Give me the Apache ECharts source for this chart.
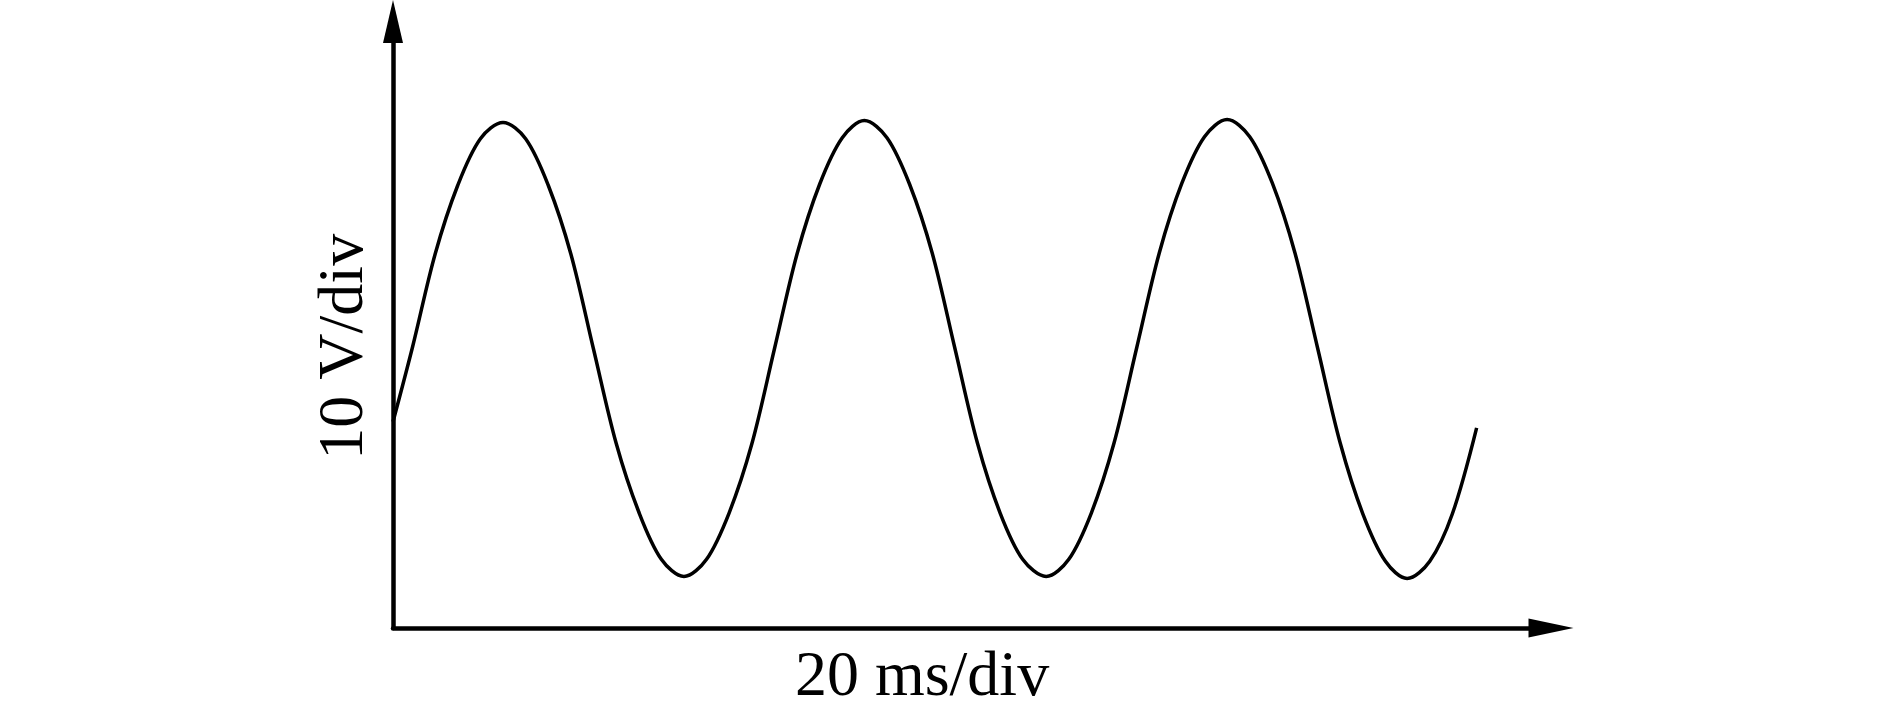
<!DOCTYPE html>
<html>
<head>
<meta charset="utf-8">
<title>10 V/div - 20 ms/div</title>
<script src="https://cdn.jsdelivr.net/npm/echarts@6/dist/echarts.min.js"></script>
<style>
  html, body { margin: 0; padding: 0; background: #fff; }
  #wave { width: 1889px; height: 703px; }
</style>
</head>
<body>
<div id="wave"></div>
<script>
// 读图得到的波形点 (时间 ms, 电压 V)，约每 1.25 ms 一个点
const timeMs = [0, 1.08, 2.33, 3.58, 4.83, 6.08, 7.33, 8.58, 9.83,
  11.08, 12.33, 13.58, 14.83, 16.08, 17.33, 18.58, 19.83,
  21.08, 22.33, 23.58, 24.83, 26.05, 27.30, 28.55, 29.80,
  31.05, 32.30, 33.55, 34.80, 36.10, 37.35, 38.60, 39.85,
  41.10, 42.35, 43.60, 44.85, 46.10, 47.35, 48.60, 49.85,
  51.10, 52.35, 53.60, 54.85, 56.05, 57.30, 58.55, 59.89]
const voltage = [20.4, 27.8, 37.0, 43.8, 48.4, 50.0, 48.4, 43.8, 37.0,
  27.6, 18.3, 11.5, 6.8, 5.1, 6.8, 11.4, 18.2,
  27.6, 37.0, 43.9, 48.5, 50.2, 48.5, 43.9, 37.1,
  27.7, 18.3, 11.4, 6.8, 5.1, 6.8, 11.4, 18.3,
  27.7, 37.1, 44.0, 48.6, 50.3, 48.6, 44.0, 37.1,
  27.7, 18.3, 11.3, 6.6, 4.9, 6.6, 11.3, 19.8]

// 坐标轴范围 / 名称
const xRange = [0, 64]
const yRange = [0, 60]
const xName = '20 ms/div'
const yName = '10 V/div'

const points = timeMs.map((t, i) => [t, voltage[i]])

const chart = echarts.init(document.getElementById('wave'))

const axisFont = {
  fontFamily: 'Liberation Serif',
  fontSize: 64,
  color: '#000'
}

const option = {
  animation: false,
  backgroundColor: '#fff',
  grid: {
    left: 393,
    right: 338,
    top: 21.5,
    bottom: 75,
    // 名称超出画布也不要压缩 grid
    outerBoundsMode: 'none'
  },
  xAxis: {
    type: 'value',
    min: xRange[0],
    max: xRange[1],
    name: xName,
    nameLocation: 'middle',
    nameGap: 18,
    nameTextStyle: Object.assign({ padding: [0, 100, 0, 0] }, axisFont),
    axisLine: {
      lineStyle: { color: '#000', width: 4.5 },
      symbol: ['none', 'triangle'],
      symbolSize: [19, 45]
    },
    axisTick: { show: false },
    axisLabel: { show: false },
    splitLine: { show: false }
  },
  yAxis: {
    type: 'value',
    min: yRange[0],
    max: yRange[1],
    name: yName,
    nameLocation: 'middle',
    nameGap: 16,
    nameTextStyle: Object.assign({ padding: [0, 44, 0, 0] }, axisFont),
    axisLine: {
      lineStyle: { color: '#000', width: 4.5 },
      symbol: ['none', 'triangle'],
      symbolSize: [20, 43]
    },
    axisTick: { show: false },
    axisLabel: { show: false },
    splitLine: { show: false }
  },
  series: [
    {
      type: 'line',
      data: points,
      smooth: 0.33,
      showSymbol: false,
      lineStyle: { color: '#000', width: 3.5 }
    }
  ]
}
chart.setOption(option)
</script>
</body>
</html>
